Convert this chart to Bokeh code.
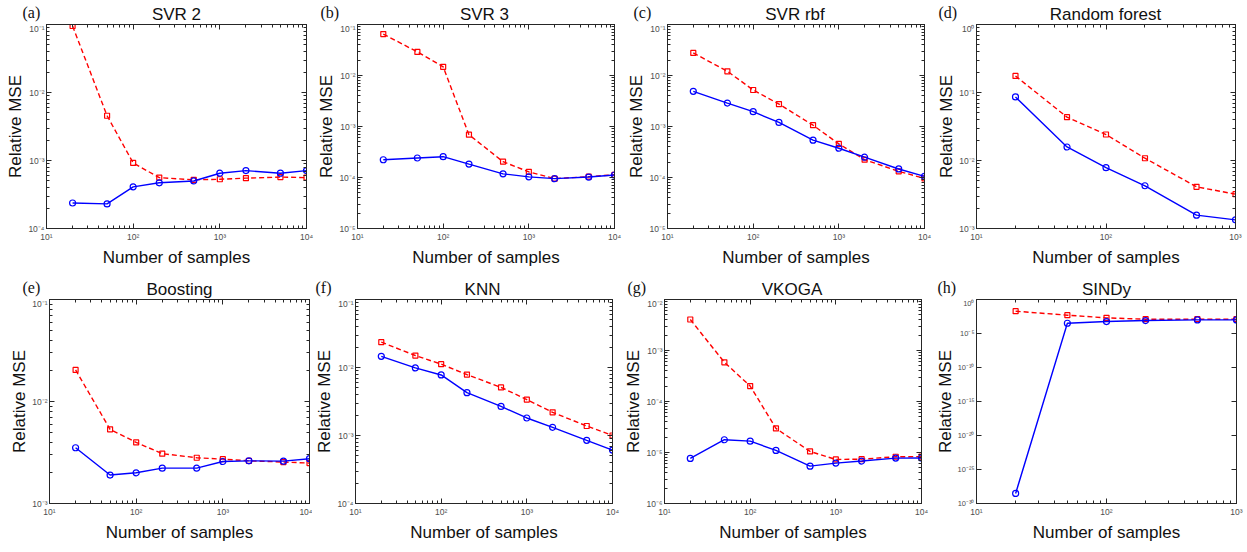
from bokeh.plotting import figure
from bokeh.models import LogAxis, FixedTicker, CustomJSTickFormatter, Range1d
from bokeh.layouts import column, row
from bokeh.embed import file_html
from bokeh.resources import INLINE
from bokeh.core.properties import value

# ---------------- data ----------------
samples = [20, 50, 100, 200, 500, 1000, 2000, 5000, 10000]
samples_short = [20, 50, 100, 200, 500, 1000]

svr2_blue = [2.37e-4, 2.3e-4, 4.1e-4, 4.7e-4, 5.0e-4, 6.5e-4, 7.1e-4, 6.5e-4, 7.1e-4]
svr2_red = [9.5e-2, 4.55e-3, 9.2e-4, 5.6e-4, 5.2e-4, 5.3e-4, 5.5e-4, 5.7e-4, 5.6e-4]

svr3_blue = [2.23e-4, 2.41e-4, 2.56e-4, 1.83e-4, 1.18e-4, 1.03e-4, 9.5e-5, 1.02e-4, 1.12e-4]
svr3_red = [6.5e-2, 2.9e-2, 1.48e-2, 6.9e-4, 2.04e-4, 1.29e-4, 9.5e-5, 1.04e-4, 1.13e-4]

svrrbf_blue = [4.9e-3, 2.88e-3, 1.95e-3, 1.2e-3, 5.4e-4, 3.75e-4, 2.5e-4, 1.47e-4, 1.05e-4]
svrrbf_red = [2.77e-2, 1.21e-2, 5.2e-3, 2.75e-3, 1.06e-3, 4.56e-4, 2.24e-4, 1.32e-4, 9.6e-5]

rf_blue = [8.6e-2, 1.58e-2, 7.85e-3, 4.25e-3, 1.57e-3, 1.34e-3]
rf_red = [0.175, 4.34e-2, 2.41e-2, 1.08e-2, 4.1e-3, 3.2e-3]

boost_blue = [3.52e-3, 1.9e-3, 2.0e-3, 2.22e-3, 2.22e-3, 2.58e-3, 2.62e-3, 2.6e-3, 2.75e-3]
boost_red = [2.04e-2, 5.33e-3, 3.97e-3, 3.08e-3, 2.81e-3, 2.72e-3, 2.62e-3, 2.55e-3, 2.49e-3]

knn_blue = [1.46e-2, 9.86e-3, 7.77e-3, 4.27e-3, 2.68e-3, 1.81e-3, 1.32e-3, 8.48e-4, 6.1e-4]
knn_red = [2.36e-2, 1.5e-2, 1.12e-2, 7.86e-3, 5.1e-3, 3.37e-3, 2.19e-3, 1.38e-3, 1.0e-3]

vkoga_blue = [7.66e-6, 1.78e-5, 1.67e-5, 1.1e-5, 5.4e-6, 6.2e-6, 6.8e-6, 7.77e-6, 7.8e-6]
vkoga_red = [4.05e-3, 5.87e-4, 2.01e-4, 2.97e-5, 1.05e-5, 7.3e-6, 7.4e-6, 8.26e-6, 8.3e-6]

sindy_blue = [3e-29, 3.2e-4, 5.7e-4, 8e-4, 1e-3, 1e-3]
sindy_red = [1.9e-2, 4.9e-3, 2e-3, 1.26e-3, 1.26e-3, 1.26e-3]

titles = ["SVR 2", "SVR 3", "SVR rbf", "Random forest", "Boosting", "KNN", "VKOGA", "SINDy"]
letters = ["(a)", "(b)", "(c)", "(d)", "(e)", "(f)", "(g)", "(h)"]
x_label = "Number of samples"
y_label = "Relative MSE"

panels = [
    dict(x=samples, blue=svr2_blue, red=svr2_red, ylim=(-4, -1), ystep=1, xmax=4),
    dict(x=samples, blue=svr3_blue, red=svr3_red, ylim=(-5, -1), ystep=1, xmax=4),
    dict(x=samples, blue=svrrbf_blue, red=svrrbf_red, ylim=(-5, -1), ystep=1, xmax=4),
    dict(x=samples_short, blue=rf_blue, red=rf_red, ylim=(-3, 0), ystep=1, xmax=3),
    dict(x=samples, blue=boost_blue, red=boost_red, ylim=(-3, -1), ystep=1, xmax=4),
    dict(x=samples, blue=knn_blue, red=knn_red, ylim=(-4, -1), ystep=1, xmax=4),
    dict(x=samples, blue=vkoga_blue, red=vkoga_red, ylim=(-6, -2), ystep=1, xmax=4),
    dict(x=samples_short, blue=sindy_blue, red=sindy_red, ylim=(-30, 0), ystep=5, xmax=3),
]

# ---------------- layout / style ----------------
fig_w = [314, 310, 310, 311, 312, 309, 308, 316]
left_b = [46, 40, 41, 41, 49, 40, 41, 47]
right_b = [8, 10, 10, 10, 3, 9, 8, 9]
top_b = [1, 1, 1, 1, 1, 1, 1, 1]
bottom_b = [47, 47, 47, 47, 44, 44, 44, 44]
FH = 204
HEADER_H = 23
title_base = [9, 9, 9, 9, 9, 9, 9, 9]
letter_base = [11, 11, 11, 11, 11, 11, 11, 11]
letter_off = [24, 34, 32, 37, 27, 37, 35, 39]
tick_font = ["8.5px"] * 7 + ["7.5px"]

SANS = "Liberation Sans"
SERIF = "Liberation Serif"
AXIS_COL = "#262626"
TICK_LAB_COL = "#4d4d4d"
TEXT_COL = "#111111"

fmt_code = """
const m = {"-":"\u207b","0":"\u2070","1":"\u00b9","2":"\u00b2","3":"\u00b3","4":"\u2074","5":"\u2075","6":"\u2076","7":"\u2077","8":"\u2078","9":"\u2079"};
const e = Math.round(Math.log10(tick));
return "10" + String(e).split("").map(c => m[c]).join("");
"""


def log_ticks(lo, hi, step):
    major = [10.0 ** e for e in range(lo, hi + 1, step)]
    mn = []
    if step == 1:
        for e in range(lo, hi):
            mn += [k * 10.0 ** e for k in range(2, 10)]
    return major, mn


def style_axis(ax, ticker, show_labels=True, font_size="8.5px"):
    ax.ticker = ticker
    ax.axis_line_color = AXIS_COL
    ax.axis_line_width = 1
    ax.major_tick_line_color = AXIS_COL
    ax.minor_tick_line_color = AXIS_COL
    ax.major_tick_in = 5
    ax.major_tick_out = 0
    ax.minor_tick_in = 3
    ax.minor_tick_out = 0
    ax.major_label_text_font = SANS
    ax.major_label_text_color = TICK_LAB_COL
    if show_labels:
        ax.formatter = CustomJSTickFormatter(code=fmt_code)
        ax.major_label_text_font_size = font_size
        ax.major_label_standoff = 2
    else:
        ax.formatter = CustomJSTickFormatter(code='return "";')
        ax.major_label_text_font_size = "1px"
        ax.major_label_standoff = 0


def make_panel(i):
    pn = panels[i]
    lo, hi = pn["ylim"]
    p = figure(
        x_axis_type="log", y_axis_type="log",
        x_range=Range1d(10, 10 ** pn["xmax"]),
        y_range=Range1d(10.0 ** lo, 10.0 ** hi),
        width=fig_w[i], height=top_b[i] + FH + bottom_b[i], title=None,
        min_border_left=left_b[i], min_border_right=right_b[i],
        min_border_top=top_b[i], min_border_bottom=bottom_b[i],
        output_backend="svg", toolbar_location=None,
        background_fill_color="white", border_fill_color="white",
    )
    p.grid.visible = False
    p.outline_line_color = AXIS_COL

    xmaj, xmin = log_ticks(1, pn["xmax"], 1)
    ymaj, ymin = log_ticks(lo, hi, pn["ystep"])

    style_axis(p.xaxis[0], FixedTicker(ticks=xmaj, minor_ticks=xmin))
    style_axis(p.yaxis[0], FixedTicker(ticks=ymaj, minor_ticks=ymin), font_size=tick_font[i])

    p.xaxis[0].axis_label = x_label
    p.yaxis[0].axis_label = y_label
    for ax in (p.xaxis[0], p.yaxis[0]):
        ax.axis_label_text_font = SANS
        ax.axis_label_text_font_size = "17px"
        ax.axis_label_text_font_style = "normal"
        ax.axis_label_text_color = TEXT_COL
    p.xaxis[0].axis_label_standoff = 3
    p.xaxis[0].major_label_standoff = 3
    p.yaxis[0].axis_label_standoff = 0

    top_ax = LogAxis()
    style_axis(top_ax, FixedTicker(ticks=xmaj, minor_ticks=xmin), show_labels=False)
    p.add_layout(top_ax, "above")
    right_ax = LogAxis()
    style_axis(right_ax, FixedTicker(ticks=ymaj, minor_ticks=ymin), show_labels=False)
    p.add_layout(right_ax, "right")

    p.line(pn["x"], pn["red"], line_color="#ff0000", line_width=1.4, line_dash="5 3")
    p.scatter(pn["x"], pn["red"], marker="square", size=5, fill_color=None,
              line_color="#ff0000", line_width=1.2)
    p.line(pn["x"], pn["blue"], line_color="#0000ff", line_width=1.4)
    p.scatter(pn["x"], pn["blue"], marker="circle", size=6, fill_color=None,
              line_color="#0000ff", line_width=1.2)
    return p


def make_header(idx):
    total = sum(fig_w[i] for i in idx)
    h = figure(width=total, height=HEADER_H, title=None,
               x_range=Range1d(0, total), y_range=Range1d(0, HEADER_H),
               x_axis_type=None, y_axis_type=None, min_border=0,
               output_backend="svg", toolbar_location=None,
               outline_line_color=None, background_fill_color="white",
               border_fill_color="white")
    h.grid.visible = False
    tx, ty, tt, lx, ly, lt = [], [], [], [], [], []
    start = 0
    for i in idx:
        fw = fig_w[i] - left_b[i] - right_b[i]
        tx.append(start + left_b[i] + fw / 2)
        ty.append(title_base[i])
        tt.append(titles[i])
        lx.append(start + left_b[i] - letter_off[i])
        ly.append(letter_base[i])
        lt.append(letters[i])
        start += fig_w[i]
    h.text(x=tx, y=ty, text=tt, text_align="center", text_baseline="alphabetic",
           text_font=value(SANS), text_font_size="17px", text_color=TEXT_COL)
    h.text(x=lx, y=ly, text=lt, text_align="left", text_baseline="alphabetic",
           text_font=value(SERIF), text_font_size="16px", text_color=TEXT_COL)
    return h


top_idx = [0, 1, 2, 3]
bot_idx = [4, 5, 6, 7]
layout = column(
    make_header(top_idx), row(*[make_panel(i) for i in top_idx]),
    make_header(bot_idx), row(*[make_panel(i) for i in bot_idx]),
)
open("out.html", "w").write(file_html(layout, INLINE))
